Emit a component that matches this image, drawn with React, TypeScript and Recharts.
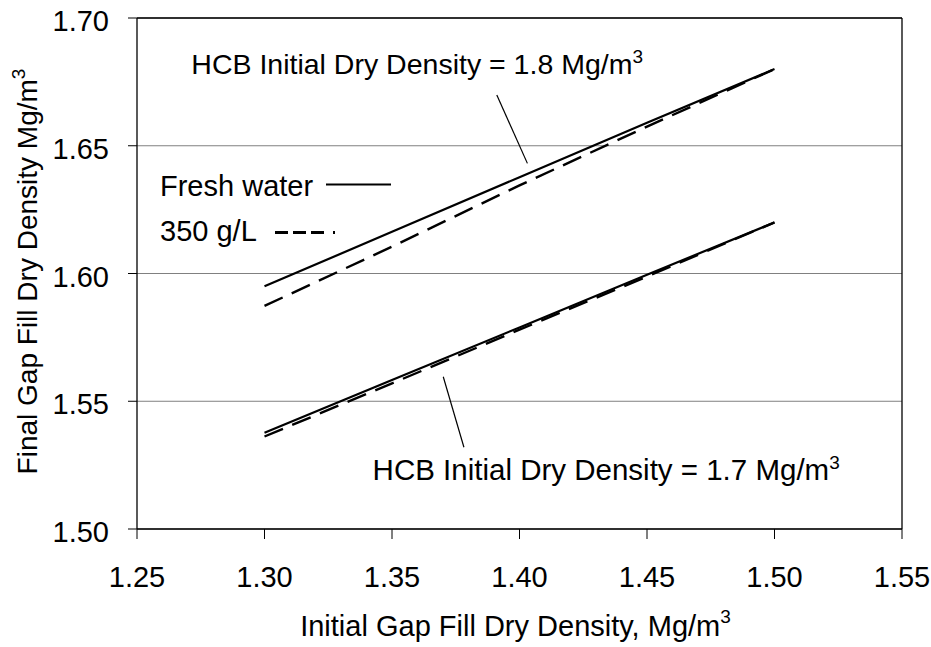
import { LineChart, Line, XAxis, YAxis, CartesianGrid, ReferenceLine, ReferenceDot, Legend } from "recharts"

const FONT = "'Liberation Sans', Arial, Helvetica, sans-serif"

// Initial gap fill dry density (Mg/m3)
const initialDensity = [1.3, 1.35, 1.4, 1.45, 1.5]

// Final gap fill dry density, HCB initial dry density = 1.8 Mg/m3
const hcb18Fresh = [1.595, 1.6163, 1.6377, 1.659, 1.68]
const hcb18Brine = [1.5873, 1.6105, 1.6345, 1.6575, 1.68]

// Final gap fill dry density, HCB initial dry density = 1.7 Mg/m3
const hcb17Fresh = [1.5377, 1.5583, 1.5789, 1.5995, 1.62]
const hcb17Brine = [1.5362, 1.557, 1.578, 1.5988, 1.62]

const xTicks = [1.25, 1.3, 1.35, 1.4, 1.45, 1.5, 1.55]
const yTicks = [1.5, 1.55, 1.6, 1.65, 1.7]

const seriesNames = ["Fresh water", "350 g/L"]

const chartData = initialDensity.map((x, i) => ({
  x,
  fresh18: hcb18Fresh[i],
  brine18: hcb18Brine[i],
  fresh17: hcb17Fresh[i],
  brine17: hcb17Brine[i],
}))

const SOLID = { stroke: "#000", strokeWidth: 2.2 }
const DASHED = { stroke: "#000", strokeWidth: 2.4, strokeDasharray: "20 10" }

// legend samples, drawn next to the text (px inside the legend box), same order as seriesNames
const legendSamples = [
  { x1: 176, x2: 241, y: 24.5, width: 2.2, dash: undefined },
  { x1: 125, x2: 188, y: 72.5, width: 3, dash: "13 5 13 5 13 9 2 100" },
]

const XTick = ({ x, y, payload }: any) => (
  <text x={x} y={y + 48} textAnchor="middle" fontSize={29} fontFamily={FONT} fill="#000">
    {Number(payload.value).toFixed(2)}
  </text>
)

const YTick = ({ x, y, payload }: any) => (
  <text x={x - 19} y={y + 13} textAnchor="end" fontSize={29} fontFamily={FONT} fill="#000">
    {Number(payload.value).toFixed(2)}
  </text>
)

const XLabel = ({ viewBox }: any) => {
  const vb = viewBox || { x: 137, y: 529, width: 765 }
  return (
    <text x={vb.x + vb.width / 2 - 4} y={vb.y + 107} textAnchor="middle" fontSize={29} fontFamily={FONT} fill="#000">
      Initial Gap Fill Dry Density, Mg/m
      <tspan dy={-13} fontSize={19}>3</tspan>
    </text>
  )
}

const YLabel = ({ viewBox }: any) => {
  const vb = viewBox || { x: 47, y: 18, height: 511 }
  const tx = vb.x - 10
  const ty = vb.y + vb.height / 2 - 2
  return (
    <text x={tx} y={ty} transform={`rotate(-90, ${tx}, ${ty})`} textAnchor="middle" fontSize={28} fontFamily={FONT} fill="#000">
      Final Gap Fill Dry Density Mg/m
      <tspan dy={-12} fontSize={19}>3</tspan>
    </text>
  )
}

const annotation = (text: string, size: number) => (props: any) => (
  <text x={props.cx} y={props.cy} fontSize={size} fontFamily={FONT} fill="#000">
    {text}
    <tspan dy={-11} fontSize={19}>3</tspan>
  </text>
)

const LegendBox = ({ payload }: any) => (
  <svg width={270} height={95} style={{ overflow: "visible" }}>
    {(payload || []).map((entry: any) => {
      const i = seriesNames.indexOf(entry.value)
      const s = legendSamples[i]
      if (!s) return null
      return (
        <g key={entry.value}>
          <text x={10} y={36 + i * 45} fontSize={29} fontFamily={FONT} fill="#000">
            {entry.value}
          </text>
          <line x1={s.x1} x2={s.x2} y1={s.y} y2={s.y} stroke="#000" strokeWidth={s.width} strokeDasharray={s.dash} />
        </g>
      )
    })}
  </svg>
)

export default function App() {
  return (
    <div style={{ position: "absolute", left: 0, top: 0, width: 931, height: 647, background: "#fff" }}>
      <LineChart width={931} height={647} data={chartData} margin={{ top: 18, right: 29, bottom: 58, left: 47 }}>
        <CartesianGrid horizontal vertical={false} stroke="#808080" strokeWidth={1} />
        <XAxis
          type="number"
          dataKey="x"
          domain={[1.25, 1.55]}
          ticks={xTicks}
          height={60}
          tickSize={10}
          tickMargin={0}
          tick={<XTick />}
          axisLine={{ stroke: "#000", strokeWidth: 1.3 }}
          tickLine={{ stroke: "#000", strokeWidth: 1 }}
          label={{ content: XLabel }}
          allowDataOverflow
        />
        <YAxis
          type="number"
          domain={[1.5, 1.7]}
          ticks={yTicks}
          width={90}
          tickSize={9}
          tickMargin={0}
          tick={<YTick />}
          axisLine={{ stroke: "#000", strokeWidth: 1.3 }}
          tickLine={{ stroke: "#000", strokeWidth: 1 }}
          label={{ content: YLabel }}
          allowDataOverflow
        />
        <ReferenceLine y={1.7} stroke="#000" strokeWidth={1.3} />
        <ReferenceLine x={1.55} stroke="#000" strokeWidth={1.3} />

        <Line dataKey="fresh18" name={seriesNames[0]} type="linear" dot={false} {...SOLID} isAnimationActive={false} />
        <Line dataKey="brine18" name={seriesNames[1]} type="linear" dot={false} {...DASHED} isAnimationActive={false} />
        <Line dataKey="fresh17" type="linear" dot={false} legendType="none" {...SOLID} isAnimationActive={false} />
        <Line dataKey="brine17" type="linear" dot={false} legendType="none" {...DASHED} isAnimationActive={false} />

        {/* leader lines for the two curve labels */}
        <ReferenceLine segment={[{ x: 1.3911, y: 1.6699 }, { x: 1.4031, y: 1.6431 }]} stroke="#000" strokeWidth={1.2} ifOverflow="visible" />
        <ReferenceLine segment={[{ x: 1.3701, y: 1.5596 }, { x: 1.3782, y: 1.532 }]} stroke="#000" strokeWidth={1.2} ifOverflow="visible" />
        <ReferenceDot x={1.2713} y={1.6781} r={0} ifOverflow="visible" shape={annotation("HCB Initial Dry Density = 1.8 Mg/m", 28.5)} />
        <ReferenceDot x={1.3424} y={1.5192} r={0} ifOverflow="visible" shape={annotation("HCB Initial Dry Density = 1.7 Mg/m", 29.5)} />

        <Legend
          layout="vertical"
          align="center"
          verticalAlign="middle"
          itemSorter={(item: any) => seriesNames.indexOf(item.value)}
          content={<LegendBox />}
          wrapperStyle={{ left: 150, top: 160, width: 270, height: 95 }}
        />
      </LineChart>
    </div>
  )
}
